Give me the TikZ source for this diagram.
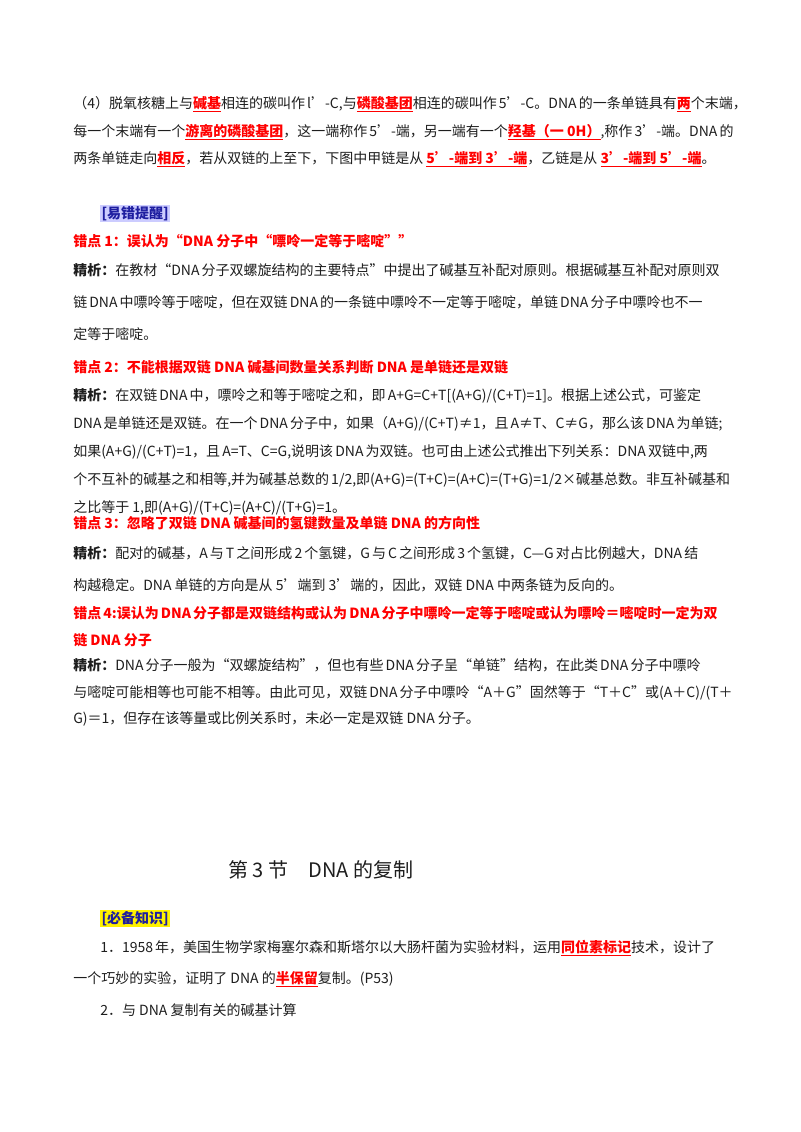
\documentclass[tikz,border=0pt]{standalone}
\usepackage{fontspec}
\setmainfont{Noto Sans CJK SC}
\XeTeXlinebreaklocale "zh"
\XeTeXlinebreakskip=0pt plus 3pt
\definecolor{txt}{RGB}{30,30,30}
\definecolor{hred}{RGB}{255,0,0}
\definecolor{navy}{RGB}{30,30,160}
\newcommand\hlr[1]{\textcolor{hred}{\bfseries\underline{#1}}}
\newcommand\fullline[2]{\node[anchor=base west,inner sep=0] at (73,#1) {\hbox to 468pt{#2}};}
\newcommand\natline[3]{\node[anchor=base west,inner sep=0] at (#1,#2) {#3};}
\newcommand\indline[2]{\node[anchor=base west,inner sep=0] at (100,#1) {\hbox to 447.75pt{#2}};}
\newcommand\redh[2]{\node[anchor=base west,inner sep=0,text=hred,font=\fontsize{10.5pt}{12pt}\selectfont\bfseries] at (73,#1) {#2};}
\newcommand\jx{{\bfseries 精析：}}
\begin{document}
\begin{tikzpicture}[x=0.75pt,y=-0.75pt,every node/.style={text=txt,font=\fontsize{10.5pt}{12pt}\selectfont}]
\useasboundingbox[fill=white] (0,0) rectangle (800,1132);
\fullline{108}{（4）脱氧核糖上与\hlr{碱基}相连的碳叫作 l'-C,与\hlr{磷酸基团}相连的碳叫作 5'-C。DNA 的一条单链具有\hlr{两}个末端，}
\fullline{136}{每一个末端有一个\hlr{游离的磷酸基团}，这一端称作 5'-端，另一端有一个\hlr{羟基（一 0H）},称作 3'-端。DNA 的}
\natline{73}{163}{两条单链走向\hlr{相反}，若从双链的上至下，下图中甲链是从 \hlr{5'-端到 3'-端}，乙链是从 \hlr{3'-端到 5'-端}。}
\node[anchor=base west,inner sep=1pt,fill=blue!20,text=navy,font=\fontsize{10.5pt}{12pt}\selectfont\bfseries] (yc) at (100,218) {[易错提醒]};
\redh{246}{错点 1：误认为“DNA 分子中“嘌呤一定等于嘧啶””}
\fullline{275}{\jx 在教材“DNA 分子双螺旋结构的主要特点”中提出了碱基互补配对原则。根据碱基互补配对原则双}
\fullline{307}{链 DNA 中嘌呤等于嘧啶，但在双链 DNA 的一条链中嘌呤不一定等于嘧啶，单链 DNA 分子中嘌呤也不一}
\natline{73}{339}{定等于嘧啶。}
\redh{372}{错点 2：不能根据双链 DNA 碱基间数量关系判断 DNA 是单链还是双链}
\fullline{400}{\jx 在双链 DNA 中，嘌呤之和等于嘧啶之和，即 A+G=C+T[(A+G)/(C+T)=1]。根据上述公式，可鉴定}
\fullline{428}{DNA 是单链还是双链。在一个 DNA 分子中，如果（A+G)/(C+T)≠1，且 A≠T、C≠G，那么该 DNA 为单链;}
\fullline{456}{如果(A+G)/(C+T)=1，且 A=T、C=G,说明该 DNA 为双链。也可由上述公式推出下列关系：DNA 双链中,两}
\fullline{484}{个不互补的碱基之和相等,并为碱基总数的 1/2,即(A+G)=(T+C)=(A+C)=(T+G)=1/2×碱基总数。非互补碱基和}
\natline{73}{512}{之比等于 1,即(A+G)/(T+C)=(A+C)/(T+G)=1。}
\redh{528}{错点 3：忽略了双链 DNA 碱基间的氢键数量及单链 DNA 的方向性}
\fullline{558}{\jx 配对的碱基，A 与 T 之间形成 2 个氢键，G 与 C 之间形成 3 个氢键，C—G 对占比例越大，DNA 结}
\natline{73}{590}{构越稳定。DNA 单链的方向是从 5'端到 3'端的，因此，双链 DNA 中两条链为反向的。}
\redh{618}{\hbox to 468pt{错点 4:误认为 DNA 分子都是双链结构或认为 DNA 分子中嘌呤一定等于嘧啶或认为嘌呤＝嘧啶时一定为双}}
\redh{645}{链 DNA 分子}
\fullline{670}{\jx DNA 分子一般为“双螺旋结构”，但也有些 DNA 分子呈“单链”结构，在此类 DNA 分子中嘌呤}
\fullline{697}{与嘧啶可能相等也可能不相等。由此可见，双链 DNA 分子中嘌呤“A＋G”固然等于“T＋C”或(A＋C)/(T＋}
\natline{73}{723}{G)＝1，但存在该等量或比例关系时，未必一定是双链 DNA 分子。}
\node[anchor=base west,inner sep=0,font=\fontsize{15pt}{18pt}\selectfont] (title) at (228,877) {第 3 节\quad DNA 的复制};
\node[anchor=base west,inner sep=1pt,fill=yellow,text=navy,font=\fontsize{10.5pt}{12pt}\selectfont\bfseries] (bb) at (100,923) {[必备知识]};
\indline{952}{1．1958 年，美国生物学家梅塞尔森和斯塔尔以大肠杆菌为实验材料，运用\hlr{同位素标记}技术，设计了}
\natline{73}{983}{一个巧妙的实验，证明了 DNA 的\hlr{半保留}复制。(P53)}
\natline{100}{1015}{2．与 DNA 复制有关的碱基计算}
\end{tikzpicture}
\end{document}
